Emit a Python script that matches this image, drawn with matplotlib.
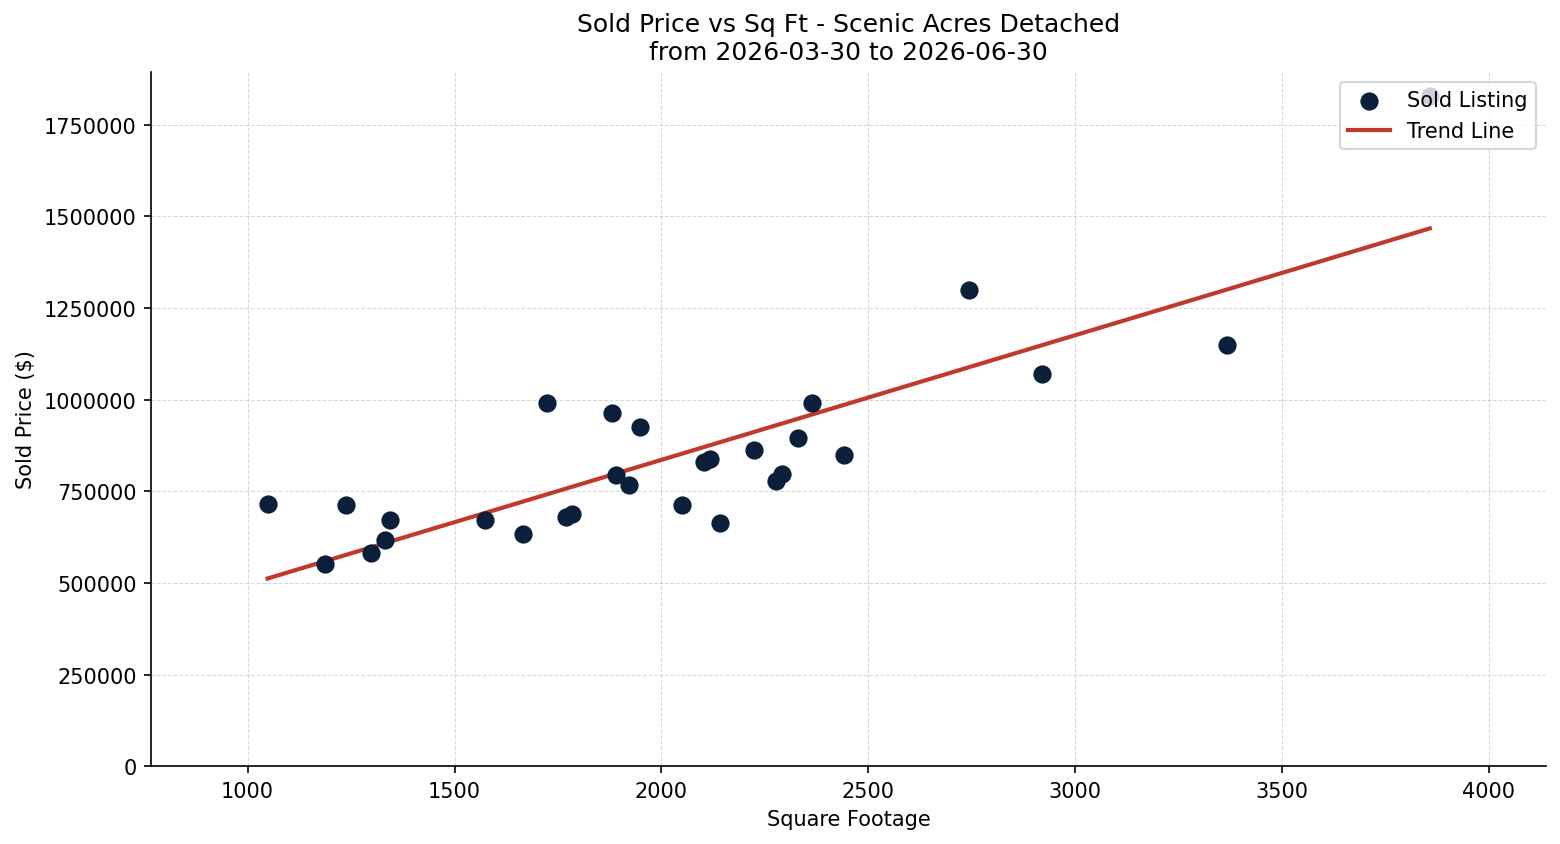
import numpy as np
import matplotlib
matplotlib.use("Agg")
import matplotlib.pyplot as plt

# sold listings
sqft = [1048, 1186, 1237, 1298, 1331, 1344, 1573, 1665, 1723, 1769,
        1784, 1881, 1890, 1922, 1948, 2050, 2103, 2118, 2142, 2224,
        2277, 2292, 2331, 2365, 2442, 2744, 2921, 3366, 3857]
price = [715000, 551000, 712000, 581000, 617000, 671000, 671000, 633000, 991000, 680000,
         688000, 964000, 794000, 767000, 925000, 712000, 830000, 838000, 663000, 863000,
         778000, 797000, 895000, 991000, 849000, 1299000, 1070000, 1149000, 1829000]

title = "Sold Price vs Sq Ft - Scenic Acres Detached\nfrom 2026-03-30 to 2026-06-30"


def plot_result(x, y):
    x = np.array(x)
    y = np.array(y)
    fig, ax = plt.subplots(figsize=(10.4, 5.6333), dpi=150)
    fig.subplots_adjust(left=0.097, right=0.991, top=0.914, bottom=0.092)

    ax.scatter(x, y, s=60, color="#0b1f3a", label="Sold Listing", zorder=3)

    m, b = np.polyfit(x, y, 1)
    xs = np.array([x.min(), x.max()])
    ax.plot(xs, m * xs + b, color="#c0392b", linewidth=2, label="Trend Line", zorder=2)

    ax.margins(x=0.1)
    ax.set_ylim(bottom=0)
    ax.ticklabel_format(style="plain", axis="y")

    ax.set_title(title, fontsize=12)
    ax.set_xlabel("Square Footage")
    ax.set_ylabel("Sold Price ($)")
    ax.grid(True, linestyle="--", linewidth=0.5, alpha=0.5)
    ax.spines["top"].set_visible(False)
    ax.spines["right"].set_visible(False)
    ax.legend(loc="upper right")

    fig.savefig("out.png")


def main():
    plot_result(sqft, price)


if __name__ == "__main__":
    main()
